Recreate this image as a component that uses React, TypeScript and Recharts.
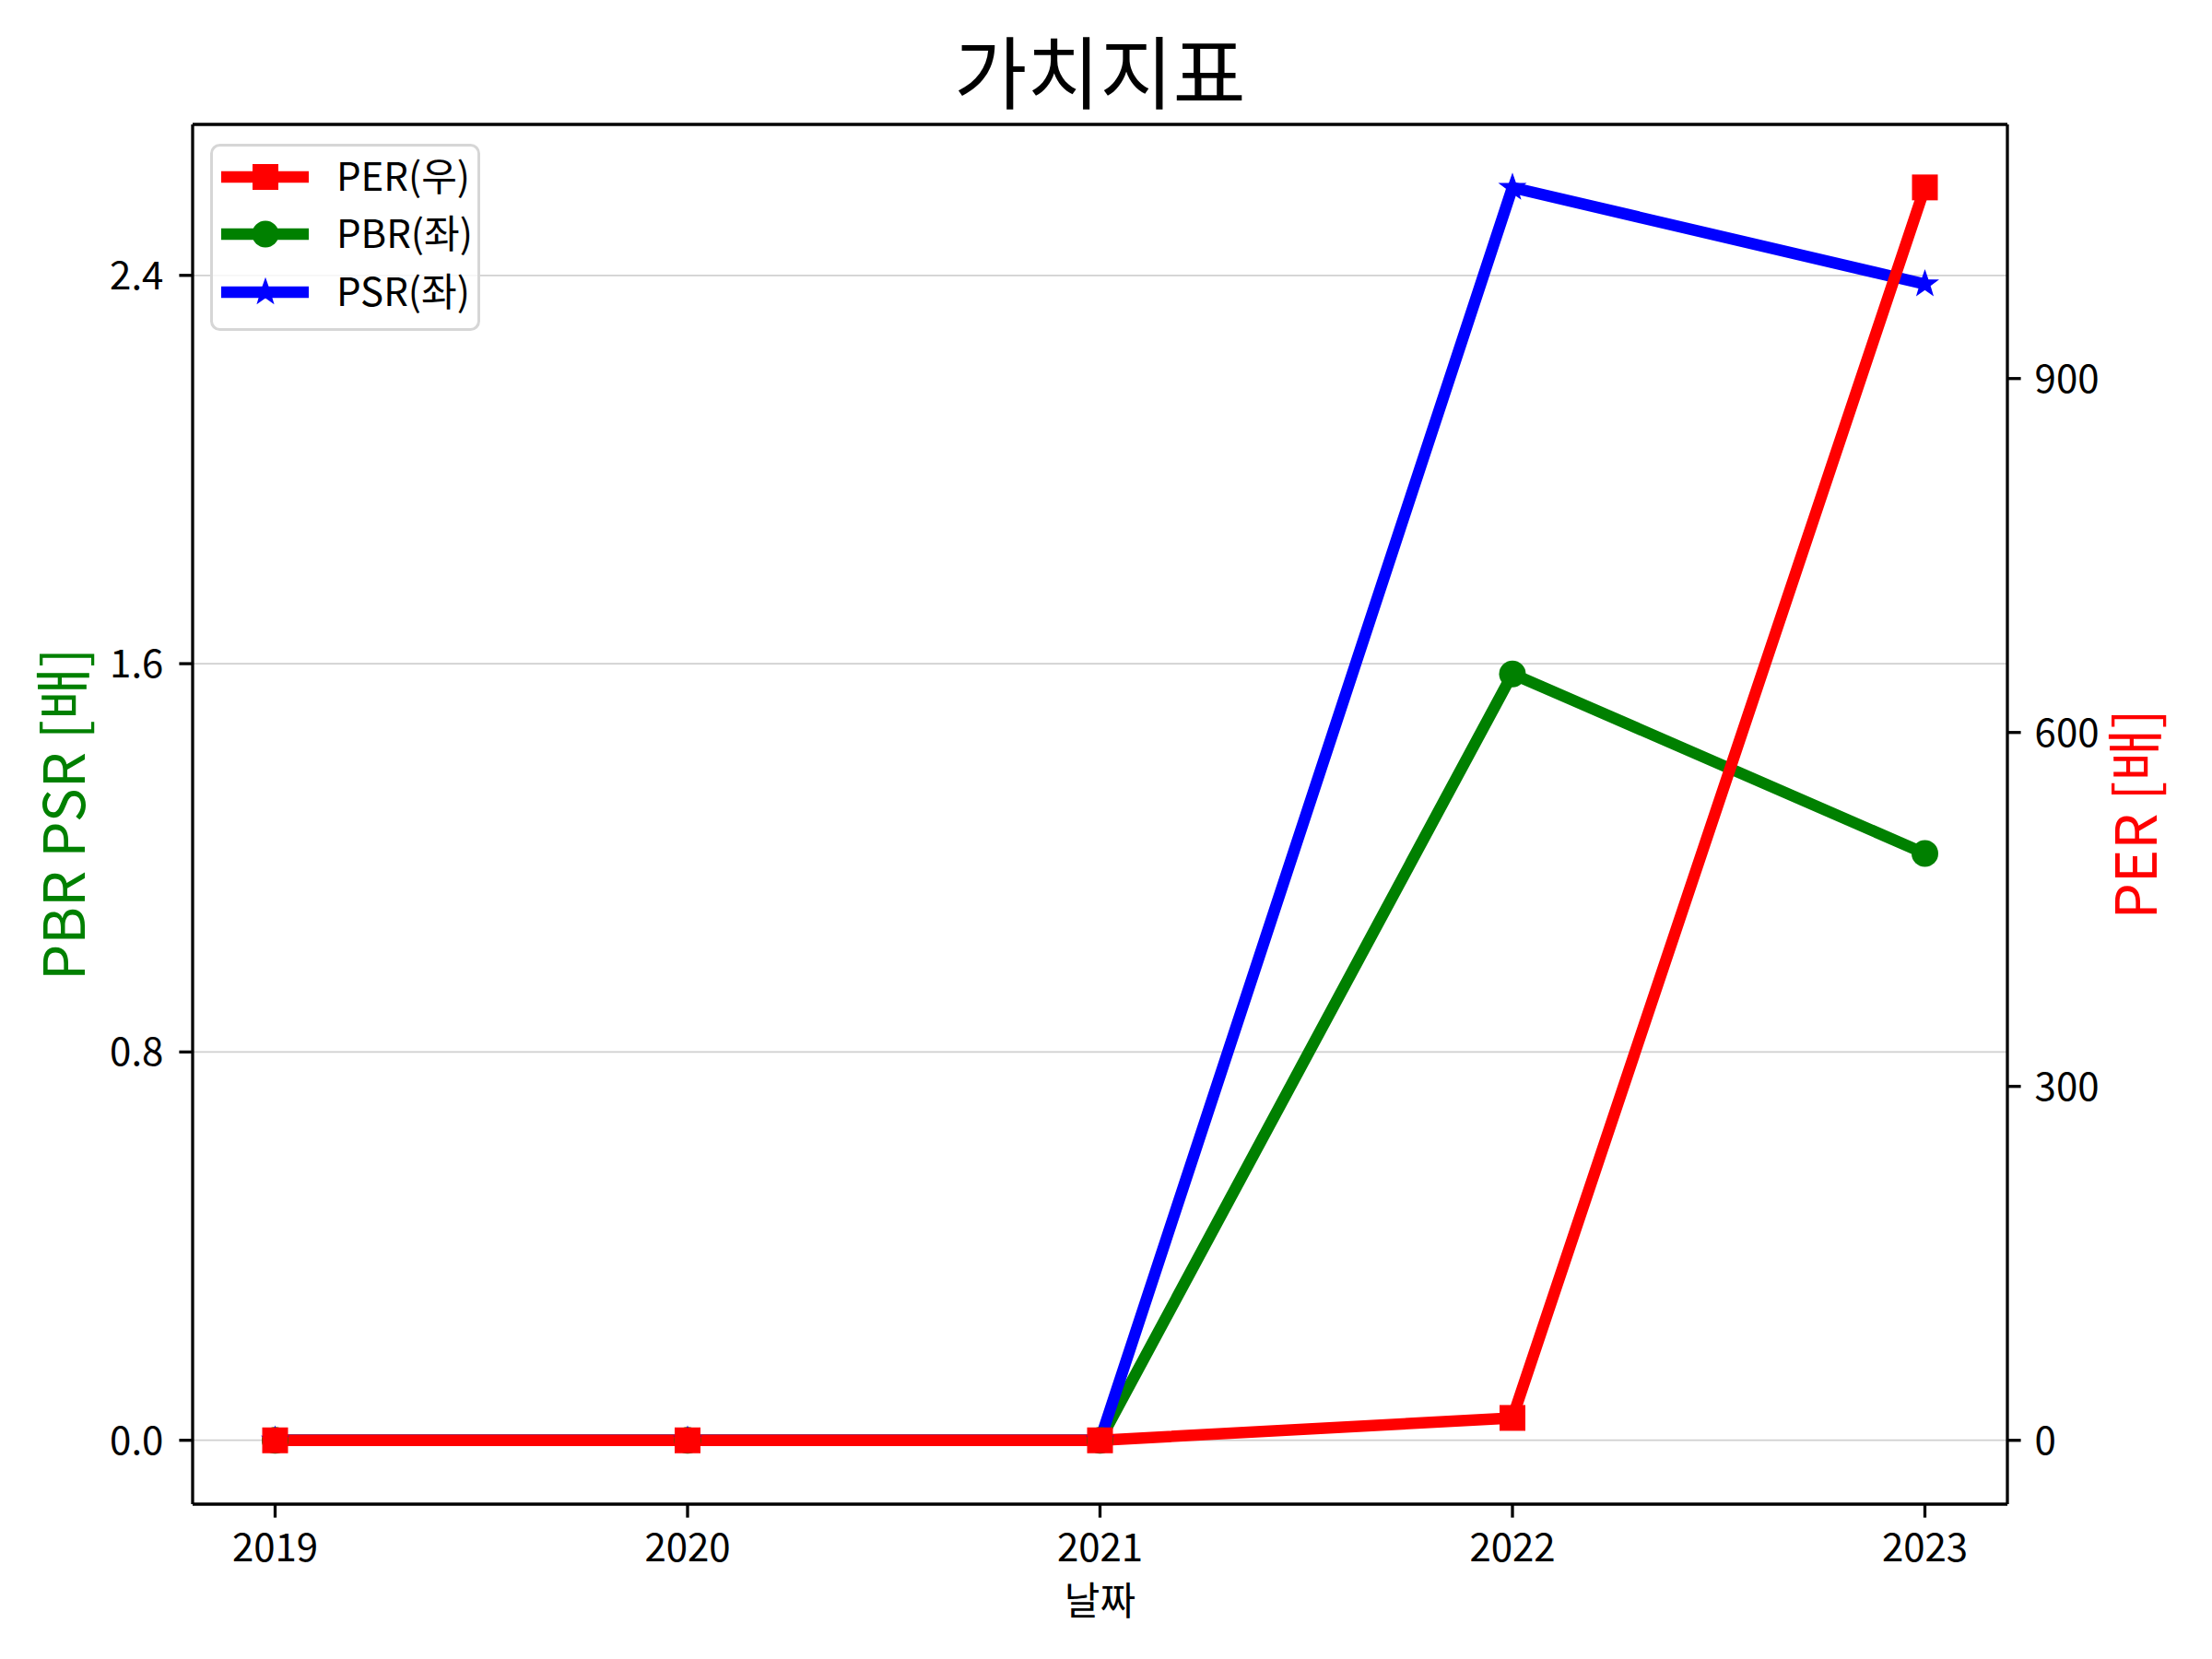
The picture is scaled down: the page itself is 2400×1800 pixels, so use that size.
import React from 'react';
import { LineChart, Line, XAxis, YAxis, CartesianGrid, Legend, Label } from 'recharts';

// ---- data ----
const years = [2019, 2020, 2021, 2022, 2023];
const perValues = [0, 0, 0, 19, 1062];
const pbrValues = [0, 0, 0, 1.579, 1.209];
const psrValues = [0, 0, 0, 2.581, 2.382];
const leftTicks = [0, 0.8, 1.6, 2.4];
const rightTicks = [0, 300, 600, 900];
const xTicks = [2019, 2020, 2021, 2022, 2023];
const titleText = '가치지표';
const xLabelText = '날짜';
const leftLabelText = 'PBR PSR [배]';
const rightLabelText = 'PER [배]';
const seriesNames = ['PER(우)', 'PBR(좌)', 'PSR(좌)'];
const seriesColors = ['#ff0000', '#008000', '#0000ff'];
const seriesShapes = ['square', 'circle', 'star'];

const data = years.map((y, i) => ({
  year: y,
  PER: perValues[i],
  PBR: pbrValues[i],
  PSR: psrValues[i],
}));

const FONT = "'Noto Sans CJK KR', 'Noto Sans', sans-serif";
const W = 2400;
const H = 1800;
const LW = 3.3;

function starPoints(cx: number, cy: number, R: number, r: number) {
  const pts: string[] = [];
  for (let k = 0; k < 10; k++) {
    const rad = k % 2 === 0 ? R : r;
    const a = -Math.PI / 2 + (k * Math.PI) / 5;
    pts.push(`${cx + rad * Math.cos(a)},${cy + rad * Math.sin(a)}`);
  }
  return pts.join(' ');
}

function Marker({ shape, cx, cy, color }: { shape: string; cx: number; cy: number; color: string }) {
  if (shape === 'square') {
    return <rect x={cx - 14} y={cy - 14} width={28} height={28} fill={color} />;
  }
  if (shape === 'circle') {
    return <circle cx={cx} cy={cy} r={14.5} fill={color} />;
  }
  return <polygon points={starPoints(cx, cy, 14, 5.6)} fill={color} stroke={color} strokeWidth={1.5} strokeLinejoin="miter" />;
}

const makeDot = (shape: string, color: string) => (props: any) => {
  const { cx, cy, index } = props;
  if (cx == null || cy == null) return <g key={`d-${shape}-${index}`} />;
  return (
    <g key={`d-${shape}-${index}`}>
      <Marker shape={shape} cx={cx} cy={cy} color={color} />
    </g>
  );
};

const LegendBox = () => {
  const rows = [36, 98, 161];
  return (
    <svg width={293} height={203} style={{ display: 'block', overflow: 'visible' }}>
      <rect x={1.5} y={1.5} width={290} height={200} rx={9} ry={9} fill="#ffffff" fillOpacity={0.8} stroke="#d6d6d6" strokeWidth={3} />
      {seriesNames.map((name, i) => (
        <g key={name}>
          <line x1={12} x2={107} y1={rows[i]} y2={rows[i]} stroke={seriesColors[i]} strokeWidth={12.5} />
          <Marker shape={seriesShapes[i]} cx={60} cy={rows[i]} color={seriesColors[i]} />
          <text x={137} y={rows[i] + 15} fontSize={42} fontFamily={FONT} fill="#000">
            {name}
          </text>
        </g>
      ))}
    </svg>
  );
};

const LeftLabel = (props: any) => {
  const vb = props.viewBox || { x: 59, y: 135, width: 150, height: 1497 };
  const x = vb.x + 33;
  const y = vb.y + vb.height / 2;
  return (
    <text x={x} y={y} transform={`rotate(-90, ${x}, ${y})`} textAnchor="middle" fontSize={62} fontFamily={FONT} fill="#008000">
      {leftLabelText}
    </text>
  );
};

const RightLabel = (props: any) => {
  const vb = props.viewBox || { x: 2178, y: 135, width: 150, height: 1497 };
  const x = vb.x + 162;
  const y = vb.y + vb.height / 2;
  return (
    <text x={x} y={y} transform={`rotate(-90, ${x}, ${y})`} textAnchor="middle" fontSize={62} fontFamily={FONT} fill="#ff0000">
      {rightLabelText}
    </text>
  );
};

const BottomLabel = (props: any) => {
  const vb = props.viewBox || { x: 209, y: 1632, width: 1969, height: 100 };
  const x = vb.x + vb.width / 2;
  const y = vb.y + 120;
  return (
    <text x={x} y={y} textAnchor="middle" fontSize={42} fontFamily={FONT} fill="#000">
      {xLabelText}
    </text>
  );
};

const tickStyle = { fontSize: 42, fill: '#000', fontFamily: FONT };
const axisLineStyle = { stroke: '#000', strokeWidth: LW };
const tickLineStyle = { stroke: '#000', strokeWidth: LW };

export default function App() {
  return (
    <div style={{ position: 'absolute', left: 0, top: 0, width: W, height: H, background: '#fff' }}>
      <svg width={W} height={220} style={{ position: 'absolute', left: 0, top: 0 }}>
        <text x={1193.5} y={112} textAnchor="middle" fontSize={86} fontFamily={FONT} fill="#000">
          {titleText}
        </text>
      </svg>
      <div style={{ position: 'absolute', left: 0, top: 0 }}>
        <LineChart width={W} height={H} data={data} margin={{ top: 134, right: 72, bottom: 68, left: 59 }}>
          <CartesianGrid yAxisId="left" vertical={false} stroke="#d0d0d0" strokeWidth={1.7} />
          <XAxis
            dataKey="year"
            type="number"
            domain={[2018.8, 2023.2]}
            ticks={xTicks}
            interval={0}
            allowDataOverflow
            height={100}
            tick={tickStyle}
            tickSize={14.6}
            tickMargin={18}
            axisLine={axisLineStyle}
            tickLine={tickLineStyle}
          >
            <Label content={<BottomLabel />} />
          </XAxis>
          <XAxis
            xAxisId="top"
            orientation="top"
            dataKey="year"
            type="number"
            domain={[2018.8, 2023.2]}
            height={1}
            tick={false}
            tickLine={false}
            axisLine={axisLineStyle}
          />
          <YAxis
            yAxisId="left"
            orientation="left"
            type="number"
            domain={[-0.1316, 2.711]}
            ticks={leftTicks}
            interval={0}
            allowDataOverflow
            width={150}
            tick={tickStyle}
            tickSize={14.6}
            tickMargin={17}
            tickFormatter={(v: number) => v.toFixed(1)}
            axisLine={axisLineStyle}
            tickLine={tickLineStyle}
          >
            <Label content={<LeftLabel />} />
          </YAxis>
          <YAxis
            yAxisId="right"
            orientation="right"
            type="number"
            domain={[-54.1, 1115.4]}
            ticks={rightTicks}
            interval={0}
            allowDataOverflow
            width={150}
            tick={tickStyle}
            tickSize={14.6}
            tickMargin={15}
            axisLine={axisLineStyle}
            tickLine={tickLineStyle}
          >
            <Label content={<RightLabel />} />
          </YAxis>
          <Legend
            layout="vertical"
            align="center"
            verticalAlign="middle"
            wrapperStyle={{ left: 228, top: 156, width: 293, height: 203 }}
            content={<LegendBox />}
          />
          <Line
            yAxisId="left"
            dataKey="PBR"
            name={seriesNames[1]}
            type="linear"
            stroke={seriesColors[1]}
            strokeWidth={12.5}
            strokeLinejoin="round"
            dot={makeDot('circle', seriesColors[1])}
            activeDot={false}
            isAnimationActive={false}
          />
          <Line
            yAxisId="left"
            dataKey="PSR"
            name={seriesNames[2]}
            type="linear"
            stroke={seriesColors[2]}
            strokeWidth={12.5}
            strokeLinejoin="round"
            dot={makeDot('star', seriesColors[2])}
            activeDot={false}
            isAnimationActive={false}
          />
          <Line
            yAxisId="right"
            dataKey="PER"
            name={seriesNames[0]}
            type="linear"
            stroke={seriesColors[0]}
            strokeWidth={12.5}
            strokeLinejoin="round"
            dot={makeDot('square', seriesColors[0])}
            activeDot={false}
            isAnimationActive={false}
          />
        </LineChart>
      </div>
    </div>
  );
}
